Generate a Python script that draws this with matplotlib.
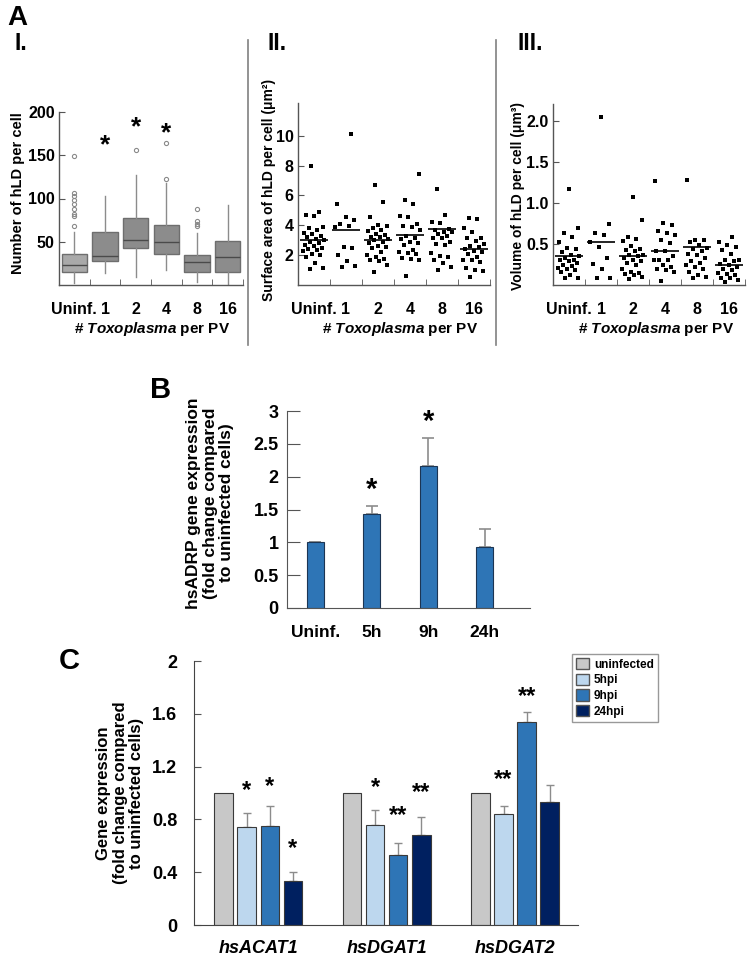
import matplotlib
matplotlib.use('Agg')
import matplotlib.pyplot as plt
import numpy as np
from matplotlib.patches import Patch
from matplotlib.lines import Line2D

plt.rcParams['font.family'] = ['Liberation Sans', 'DejaVu Sans']
plt.rcParams['font.weight'] = 'bold'
plt.rcParams['mathtext.fontset'] = 'custom'
plt.rcParams['mathtext.it'] = 'Liberation Sans:italic:bold'
plt.rcParams['mathtext.rm'] = 'Liberation Sans:bold'

# ---------------- data ----------------
groups_A = ["Uninf.", "1", "2", "4", "8", "16"]

# A-I boxplot (number of hLD per cell)
box_q1 = [14.6, 28.0, 42.3, 35.4, 14.6, 15.4]
box_med = [22.7, 33.8, 51.9, 49.6, 26.5, 32.0]
box_q3 = [35.4, 61.0, 77.3, 69.6, 34.2, 50.7]
box_wlo = [2.7, 13.5, 8.9, 17.0, 3.5, 1.5]
box_whi = [61.0, 102.6, 127.0, 118.0, 59.6, 92.6]
fl_uninf = [149.2, 106.5, 102.7, 98.0, 93.4, 87.3, 82.3, 79.6, 68.4]
fl_1 = []
fl_2 = [155.7]
fl_4 = [164.0, 122.0]
fl_8 = [88.4, 73.8, 71.0, 68.0]
fl_16 = []
star_A_idx = [1, 2, 3]
star_A_y = [161, 182, 175]

# A-II surface area per cell (um^2)
sa_uninf = [8.0, 4.9, 4.7, 4.6, 3.9, 3.8, 3.7, 3.5, 3.3, 3.2, 3.1, 3.0, 2.9, 2.8,
            2.6, 2.5, 2.4, 2.35, 2.25, 2.1, 2.0, 1.9, 1.5, 1.15, 1.1, 2.7, 3.4]
sa_1 = [10.1, 5.4, 4.55, 4.35, 4.1, 3.95, 3.9, 2.55, 2.5, 2.0, 1.6, 1.3, 1.2]
sa_2 = [6.7, 5.55, 4.55, 4.05, 3.95, 3.85, 3.7, 3.45, 3.35, 3.25, 3.2, 3.1, 3.0, 2.9,
        2.6, 2.55, 2.5, 2.2, 2.0, 1.85, 1.75, 1.7, 1.6, 1.35, 0.9, 2.8, 3.6]
sa_4 = [7.45, 5.68, 5.41, 4.65, 4.56, 4.12, 3.94, 3.87, 3.71, 3.3, 3.13, 3.06, 2.91,
        2.8, 2.68, 2.35, 2.24, 2.13, 2.06, 1.79, 1.75, 1.7, 0.58]
sa_8 = [6.42, 4.70, 4.23, 4.14, 3.74, 3.69, 3.58, 3.58, 3.40, 3.18, 3.13, 2.75, 2.68,
        2.13, 1.95, 1.90, 1.68, 1.45, 1.23, 1.0, 2.9, 3.3]
sa_16 = [4.47, 4.43, 3.80, 3.53, 3.18, 3.13, 2.95, 2.75, 2.64, 2.53, 2.42, 2.24, 2.06,
         1.68, 1.68, 1.57, 1.16, 1.0, 0.94, 0.51, 2.3, 1.9]
sa_line = [3.05, 3.67, 3.05, 3.38, 3.74, 2.39]

# A-III volume per cell (um^3)
v_uninf = [1.17, 0.69, 0.64, 0.58, 0.53, 0.45, 0.44, 0.40, 0.37, 0.35, 0.33, 0.31, 0.29,
           0.27, 0.25, 0.21, 0.20, 0.18, 0.16, 0.12, 0.08, 0.08, 0.23, 0.30]
v_1 = [2.05, 0.75, 0.64, 0.61, 0.52, 0.46, 0.33, 0.26, 0.20, 0.09, 0.09]
v_2 = [1.08, 0.79, 0.59, 0.56, 0.54, 0.48, 0.44, 0.43, 0.41, 0.37, 0.37, 0.35, 0.33,
       0.31, 0.27, 0.24, 0.20, 0.16, 0.15, 0.14, 0.10, 0.07, 0.12, 0.29]
v_4 = [1.27, 0.76, 0.73, 0.66, 0.64, 0.61, 0.55, 0.51, 0.41, 0.41, 0.31, 0.31, 0.30,
       0.24, 0.22, 0.20, 0.18, 0.16, 0.05, 0.36]
v_8 = [1.28, 0.55, 0.55, 0.53, 0.49, 0.44, 0.42, 0.38, 0.37, 0.33, 0.29, 0.24, 0.22,
       0.20, 0.16, 0.12, 0.10, 0.08, 0.45, 0.27]
v_16 = [0.58, 0.53, 0.49, 0.46, 0.43, 0.38, 0.31, 0.30, 0.29, 0.26, 0.24, 0.22, 0.20,
        0.18, 0.15, 0.13, 0.12, 0.09, 0.08, 0.06, 0.04]
v_line = [0.35, 0.52, 0.36, 0.41, 0.46, 0.24]

# B hsADRP
cats_B = ["Uninf.", "5h", "9h", "24h"]
val_B = [1.0, 1.43, 2.16, 0.93]
err_B = [0.0, 0.13, 0.43, 0.27]
star_B_idx = [1, 2]
star_B_y = [1.80, 2.84]

# C gene expression
genes_C = ["hsACAT1", "hsDGAT1", "hsDGAT2"]
series_C = ["uninfected", "5hpi", "9hpi", "24hpi"]
uninf_C = [1.0, 1.0, 1.0]
h5_C = [0.745, 0.76, 0.84]
h9_C = [0.75, 0.53, 1.54]
h24_C = [0.335, 0.68, 0.93]
uninf_err = [0.0, 0.0, 0.0]
h5_err = [0.105, 0.11, 0.06]
h9_err = [0.15, 0.095, 0.075]
h24_err = [0.065, 0.14, 0.13]
stars_C = [(0, 1, "*", 1.02), (0, 2, "*", 1.05), (0, 3, "*", 0.58),
           (1, 1, "*", 1.04), (1, 2, "**", 0.83), (1, 3, "**", 1.00),
           (2, 1, "**", 1.10), (2, 2, "**", 1.73)]

# ---------------- figure ----------------
W, H = 748, 959
fig = plt.figure(figsize=(W / 100, H / 100), dpi=100)


def fx(x):
    return x / W


def fy(y):
    return 1 - y / H


def ax_at(x0, y0, x1, y1):
    return fig.add_axes([fx(x0), fy(y1), (x1 - x0) / W, (y1 - y0) / H])


def spread(vals, width=0.34):
    order = np.argsort(vals)
    offs = np.empty(len(vals))
    for k, i in enumerate(order):
        offs[i] = ((k * 0.618034 + 0.3) % 1.0 - 0.5) * 2 * width
    return offs


def style_A(ax):
    for s in ['top', 'right']:
        ax.spines[s].set_visible(False)
    for s in ['left', 'bottom']:
        ax.spines[s].set_color('#555555')
        ax.spines[s].set_linewidth(1.0)
    ax.set_xlim(-0.5, 5.5)
    ax.set_xticks(range(6))
    ax.set_xticklabels(groups_A, fontsize=11.5, fontweight='bold')
    ax.set_xticks(np.arange(-0.5, 6, 1), minor=True)
    ax.tick_params(axis='x', which='major', length=0, pad=12)
    ax.tick_params(axis='x', which='minor', length=4, direction='in', color='#555555')
    ax.tick_params(axis='y', which='major', length=4, direction='in', color='#555555',
                   labelsize=11.5, pad=3)


# ---- A-I ----
axI = ax_at(59, 112, 243, 285)
fliers = [fl_uninf, fl_1, fl_2, fl_4, fl_8, fl_16]
stats = [dict(med=box_med[i], q1=box_q1[i], q3=box_q3[i], whislo=box_wlo[i],
              whishi=box_whi[i], fliers=fliers[i]) for i in range(6)]
bp = axI.bxp(stats, positions=range(6), widths=0.82, showcaps=False, patch_artist=True,
             flierprops=dict(marker='o', markersize=3, markerfacecolor='none',
                             markeredgecolor='#8a8a8a', markeredgewidth=0.8),
             medianprops=dict(color='#4a4a4a', lw=1.0),
             whiskerprops=dict(color='#8c8c8c', lw=1.0),
             boxprops=dict(lw=1.0))
for k, patch in enumerate(bp['boxes']):
    patch.set_facecolor('#a9a9a9' if k == 0 else '#8c8c8c')
    patch.set_edgecolor('#6e6e6e')
style_A(axI)
axI.set_ylim(0, 200)
axI.set_yticks([50, 100, 150, 200])
for p, y in zip(star_A_idx, star_A_y):
    axI.text(p, y, "*", ha='center', va='center', fontsize=19)

# ---- A-II ----
axII = ax_at(298, 103, 490, 285)
sa_all = [sa_uninf, sa_1, sa_2, sa_4, sa_8, sa_16]
for i, vals in enumerate(sa_all):
    axII.plot(i + spread(vals), vals, 's', color='black', markersize=2.3, markeredgewidth=0)
axII.hlines(sa_line, np.arange(6) - 0.45, np.arange(6) + 0.45, color='black', lw=1.2)
style_A(axII)
axII.set_ylim(0, 12.2)
axII.set_yticks([2, 4, 6, 8, 10])

# ---- A-III ----
axIII = ax_at(553, 104, 745, 285)
v_all = [v_uninf, v_1, v_2, v_4, v_8, v_16]
for i, vals in enumerate(v_all):
    axIII.plot(i + spread(vals), vals, 's', color='black', markersize=2.3, markeredgewidth=0)
axIII.hlines(v_line, np.arange(6) - 0.45, np.arange(6) + 0.45, color='black', lw=1.2)
style_A(axIII)
axIII.set_ylim(0, 2.21)
axIII.set_yticks([0.5, 1.0, 1.5, 2.0])
axIII.set_yticklabels(["0.5", "1.0", "1.5", "2.0"])

# panel A texts
fig.text(fx(17), fy(25), "A", fontsize=20, fontweight='bold', ha='center', va='baseline')
fig.text(fx(21), fy(50), "I.", fontsize=16.5, fontweight='bold', ha='center', va='baseline')
fig.text(fx(277), fy(50), "II.", fontsize=16.5, fontweight='bold', ha='center', va='baseline')
fig.text(fx(530), fy(50), "III.", fontsize=16.5, fontweight='bold', ha='center', va='baseline')
fig.text(fx(18), fy(193), "Number of hLD per cell", rotation=90, fontsize=10.5,
         fontweight='bold', ha='center', va='center')
fig.text(fx(269), fy(190), "Surface area of hLD per cell (\u03bcm\u00b2)", rotation=90,
         fontsize=10, fontweight='bold', ha='center', va='center')
fig.text(fx(518), fy(196), "Volume of hLD per cell (\u03bcm\u00b3)", rotation=90,
         fontsize=10, fontweight='bold', ha='center', va='center')
for xc in [152, 400, 656]:
    fig.text(fx(xc), fy(329), r"# $Toxoplasma$ per PV", fontsize=11, fontweight='bold',
             ha='center', va='center')
for xs in [248, 496]:
    fig.add_artist(Line2D([fx(xs), fx(xs)], [fy(40), fy(345)], color='#808080', lw=1.2))

# ---- B ----
axB = ax_at(287, 411, 530, 608)
xB = np.arange(len(cats_B))
axB.bar(xB, val_B, width=0.3, color='#2e75b6', edgecolor='#1c3553', lw=0.8, zorder=2)
axB.errorbar(xB, val_B, yerr=[np.zeros(len(err_B)), err_B], fmt='none', ecolor='#8c8c8c',
             elinewidth=1.2, capsize=4, capthick=1.2, zorder=1)
axB.set_xlim(-0.5, 3.8)
axB.set_ylim(0, 3)
axB.set_yticks([0, 0.5, 1, 1.5, 2, 2.5, 3])
axB.set_yticklabels(["0", "0.5", "1", "1.5", "2", "2.5", "3"])
axB.set_xticks(xB)
axB.set_xticklabels(cats_B, fontsize=12.5, fontweight='bold')
axB.tick_params(axis='x', length=0, pad=12)
axB.tick_params(axis='y', length=9, direction='in', labelsize=13, pad=6, color='#555555')
for s in ['top', 'right']:
    axB.spines[s].set_visible(False)
for s in ['left', 'bottom']:
    axB.spines[s].set_color('#555555')
for p, y in zip(star_B_idx, star_B_y):
    axB.text(p, y, "*", ha='center', va='center', fontsize=21)
fig.text(fx(161), fy(390), "B", fontsize=21, fontweight='bold', ha='center', va='center')
fig.text(fx(210), fy(503), "hsADRP gene expression\n(fold change compared\nto uninfected cells)",
         rotation=90, fontsize=12.5, fontweight='bold', ha='center', va='center',
         multialignment='center', linespacing=1.12)

# ---- C ----
axC = ax_at(194, 661, 578, 925)
xC = np.arange(len(genes_C))
colors_C = ['#c8c8c8', '#bdd7ee', '#2e75b6', '#002060']
vals_C = [uninf_C, h5_C, h9_C, h24_C]
errs_C = [uninf_err, h5_err, h9_err, h24_err]
bw = 0.144
step = 0.18
for j in range(4):
    xs = xC + (j - 1.5) * step
    axC.bar(xs, vals_C[j], width=bw, color=colors_C[j], edgecolor='#3a3a3a', lw=0.8,
            zorder=2, label=series_C[j])
    if j > 0:
        axC.errorbar(xs, vals_C[j], yerr=[np.zeros(3), errs_C[j]], fmt='none',
                     ecolor='#8c8c8c', elinewidth=1.0, capsize=3, capthick=1.0, zorder=1)
for g, j, s, y in stars_C:
    axC.text(xC[g] + (j - 1.5) * step, y, s, ha='center', va='center', fontsize=17)
axC.set_xlim(-0.5, 2.49)
axC.set_ylim(0, 2.0)
axC.set_yticks([0, 0.4, 0.8, 1.2, 1.6, 2.0])
axC.set_yticklabels(["0", "0.4", "0.8", "1.2", "1.6", "2"])
axC.set_xticks(xC)
axC.set_xticklabels(genes_C, fontsize=13, fontweight='bold', fontstyle='italic')
axC.tick_params(axis='x', length=0, pad=11)
axC.tick_params(axis='y', length=5, direction='in', labelsize=13, pad=12, color='#555555')
for s in ['top', 'right']:
    axC.spines[s].set_visible(False)
for s in ['left', 'bottom']:
    axC.spines[s].set_color('#444444')
handles = [Patch(facecolor=colors_C[j], edgecolor='#555555', label=series_C[j]) for j in range(4)]
leg = fig.legend(handles=handles, loc='upper left', bbox_to_anchor=(fx(572), fy(654)),
                 frameon=True, fancybox=False, edgecolor='#808080', fontsize=8.5,
                 handlelength=1.1, handleheight=1.1, handletextpad=0.4, labelspacing=0.25,
                 borderpad=0.35, borderaxespad=0)
leg.get_frame().set_linewidth(1.0)
fig.text(fx(69), fy(661), "C", fontsize=21, fontweight='bold', ha='center', va='center')
fig.text(fx(120), fy(793), "Gene expression\n(fold change compared\nto uninfected cells)",
         rotation=90, fontsize=12, fontweight='bold', ha='center', va='center',
         multialignment='center', linespacing=1.12)

fig.savefig('out.png', dpi=100)
